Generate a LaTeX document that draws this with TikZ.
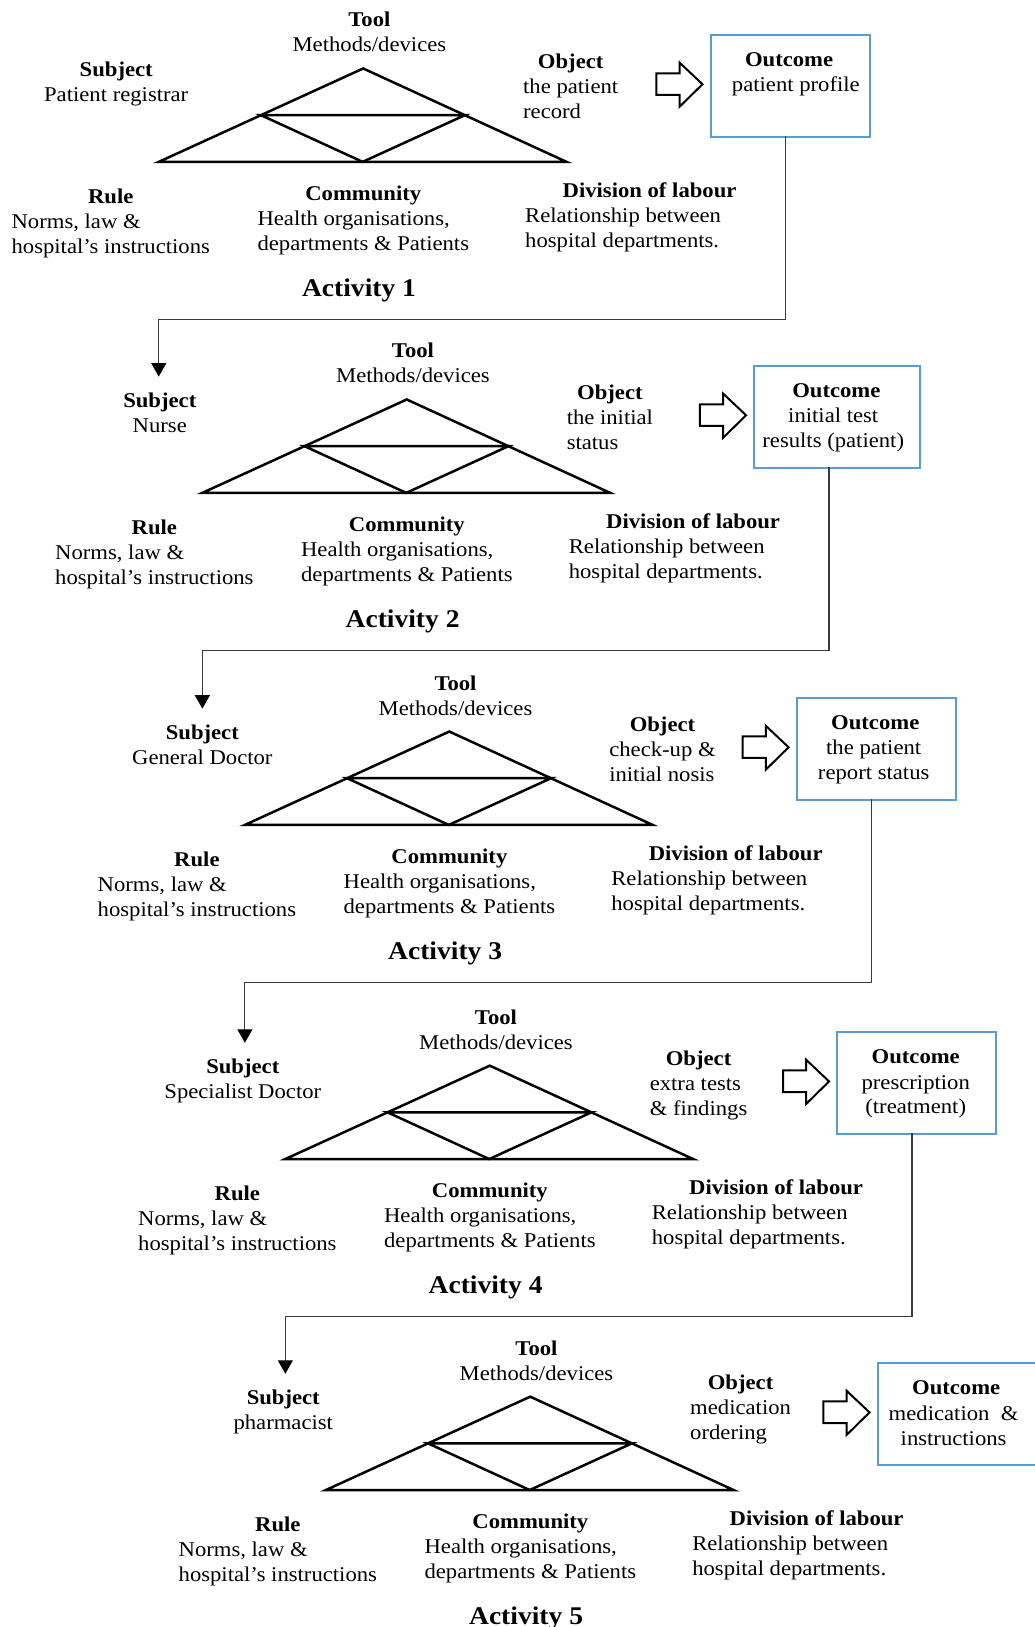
\documentclass[tikz,border=0pt]{standalone}
\usepackage{fontspec}
\setmainfont{Liberation Serif}[FakeStretch=1.08]
\usetikzlibrary{arrows.meta}

\definecolor{boxblue}{HTML}{5B9BD5}
\definecolor{linkgray}{HTML}{3A3A3A}

\tikzset{
  txt/.style={inner sep=0pt, font=\fontsize{21pt}{25pt}\selectfont},
  acttitle/.style={inner sep=0pt, font=\fontsize{25.5pt}{30pt}\selectfont\bfseries},
  tri/.style={line width=2.5pt},
  blockarrow/.style={draw=black, line width=2pt, fill=white},
  outbox/.style={draw=boxblue, line width=2pt, inner sep=0pt,
                 minimum height=101.7pt, anchor=north west},
  link/.style={draw=linkgray, line width=1.2pt,
               -{Triangle[length=13.5pt,width=15pt,color=black]}, shorten >=13.5pt}
}

% heading centred over a left-aligned body
\newcommand\blockleft[2]{\begin{tabular}[t]{@{}l@{}}\multicolumn{1}{@{}c@{}}{\textbf{#1}}\\#2\end{tabular}}
% heading and body both centred
\newcommand\blockcenter[2]{\begin{tabular}[t]{@{}c@{}}\textbf{#1}\\#2\end{tabular}}

% #1 number, #2/#3 shift, #4 subject, #5 object, #6 outcome,
% #7 outcome box width, #8 outcome text x-offset, #9 object y-offset
\newcommand\drawactivity[9]{%
\begin{scope}[shift={(#2,#3)}]
  \node[txt, anchor=base] (tool#1) at (356,26) {\blockcenter{Tool}{Methods/devices}};
  \node[txt, anchor=base] (sub#1) at (112,74) {\blockcenter{Subject}{#4}};
  % activity triangle
  \coordinate (apex#1) at (350,66);
  \coordinate (bl#1) at (153,156);
  \coordinate (br#1) at (546,156);
  \coordinate (ml#1) at (251.5,111);
  \coordinate (mr#1) at (448,111);
  \coordinate (bm#1) at (349.5,156);
  \draw[tri] (apex#1) -- (bl#1) -- (br#1) -- cycle;
  \draw[tri] (ml#1) -- (mr#1) -- (bm#1) -- cycle;
  % object and block arrow
  \node[txt, anchor=base west] (obj#1) at (504,{66+#9}) {\blockleft{Object}{#5}};
  \draw[blockarrow] (632.6,70.6) -- (655,70.6) -- (655,60.4) -- (677,81.2)
        -- (655,102.8) -- (655,91.5) -- (632.6,91.5) -- cycle;
  % outcome box
  \node[outbox, minimum width=#7*1.0381pt] (box#1) at (684,33) {};
  \node[txt, anchor=base] (outh#1) at ({684+#7/2},64) {\textbf{Outcome}};
  \node[txt, anchor=base] (outb#1) at ({684+#7/2+#8},88.5)
        {\begin{tabular}[t]{@{}c@{}}#6\end{tabular}};
  % lower labels
  \node[txt, anchor=base west] (rule#1) at (11,196)
        {\blockleft{Rule}{Norms, law \&\\hospital’s instructions}};
  \begin{scope}
    \clip (230,160) rectangle (480,245);
    \node[txt, anchor=base west] (com#1) at (248,193.5)
          {\blockleft{Community}{Health organisations,\\departments \& Patients}};
  \end{scope}
  \node[txt, anchor=base] (divh#1) at (626,190) {\textbf{Division of labour}};
  \node[txt, anchor=base west] (divb#1) at (506,214)
        {\begin{tabular}[t]{@{}l@{}}Relationship between\\hospital departments.\end{tabular}};
  \node[acttitle, anchor=base] (act#1) at (346,286) {Activity #1};
  % connector anchors
  \coordinate (out#1) at (757,131);
  \coordinate (bend#1) at (153,308);
\end{scope}}

\begin{document}
\begin{tikzpicture}[x=1.0381pt, y=-1.0381pt]
  \useasboundingbox[fill=white] (0,0) rectangle (997,1568);

  \drawactivity{1}{0}{0}{Patient registrar}{the patient\\record}{patient profile}{153}{6.5}{0}
  \drawactivity{2}{42}{319}{Nurse}{the initial\\status}{initial test\\results (patient)}{160}{-3}{0}
  \drawactivity{3}{83}{639}{General Doctor}{check-up \&\\initial nosis}{the patient\\report status}{153}{-1.5}{0}
  \drawactivity{4}{122}{961}{Specialist Doctor}{extra tests\\\& findings}{prescription\\(treatment)}{153}{0}{0}
  \drawactivity{5}{161}{1280}{pharmacist}{medication\\ordering}{medication\ \ \&\\instructions}{153}{-2.5}{-7}

  % flow from each outcome to the next subject
  \draw[link] (out1) |- (bend1) -- (bend1 |- sub2.north);
  \draw[link] (out2) |- (bend2) -- (bend2 |- sub3.north);
  \draw[link] (out3) |- (bend3) -- (bend3 |- sub4.north);
  \draw[link] (out4) |- (bend4) -- (bend4 |- sub5.north);
\end{tikzpicture}
\end{document}
